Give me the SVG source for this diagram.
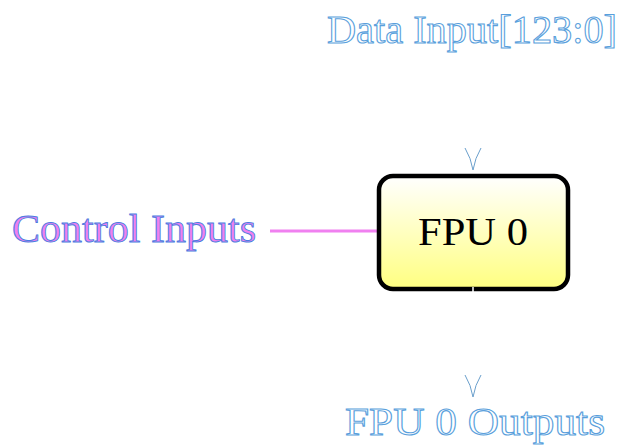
<svg xmlns="http://www.w3.org/2000/svg" width="632" height="445" viewBox="0 0 632 445">
<defs>
<linearGradient id="g" x1="0" y1="0" x2="0" y2="1">
<stop offset="0" stop-color="#ffffff"/>
<stop offset="1" stop-color="#ffff80"/>
</linearGradient>
</defs>
<style>
.lbl{font-family:"Liberation Serif",serif;font-size:40px;}
.hollow{fill:#ffffff;stroke:#5a9fdc;stroke-width:1.1;}
.ctrl{fill:#f080f0;stroke:#4a7fe0;stroke-width:0.9;}
.tip{fill:none;stroke:#6a9fcc;stroke-width:1;}
</style>
<rect width="632" height="445" fill="#ffffff"/>
<g id="connectors">
<line x1="270" y1="231" x2="378" y2="231" stroke="#f080f0" stroke-width="3"/>
<path class="tip" d="M465,148 Q471,158 473,170 Q475,158 481,148"/>
<path class="tip" d="M465,375 Q471,385 473,397 Q475,385 481,375"/>
</g>
<g id="fpu0">
<rect x="379" y="176" width="189" height="113" rx="14" ry="14" fill="url(#g)" stroke="#000000" stroke-width="4.5"/>
<line x1="473" y1="287" x2="473" y2="292" stroke="#ffffff" stroke-width="1.5"/>
<text class="lbl" x="418" y="245" fill="#000000" textLength="110" lengthAdjust="spacingAndGlyphs">FPU 0</text>
</g>
<g id="data-input">
<text class="lbl hollow" x="327" y="43" textLength="290" lengthAdjust="spacingAndGlyphs">Data Input[123:0]</text>
</g>
<g id="control-inputs">
<text class="lbl ctrl" x="12" y="242" textLength="244" lengthAdjust="spacingAndGlyphs">Control Inputs</text>
</g>
<g id="fpu0-outputs">
<text class="lbl hollow" x="345" y="435" font-size="38" textLength="260" lengthAdjust="spacingAndGlyphs">FPU 0 Outputs</text>
</g>
</svg>
